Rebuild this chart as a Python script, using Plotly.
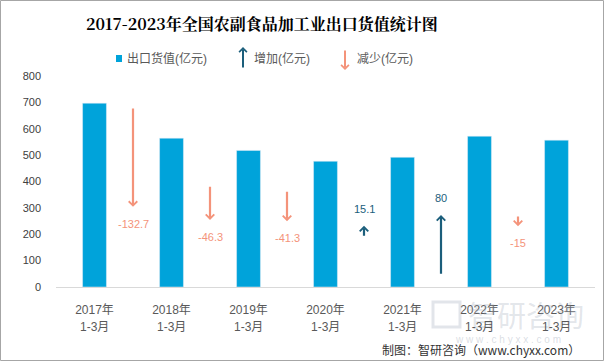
import plotly.graph_objects as go

# ---- data ----
categories = ["2017年<br>1-3月", "2018年<br>1-3月", "2019年<br>1-3月", "2020年<br>1-3月",
              "2021年<br>1-3月", "2022年<br>1-3月", "2023年<br>1-3月"]
export_value = [697.0, 564.3, 518.0, 476.7, 491.8, 571.8, 556.8]
changes = [-132.7, -46.3, -41.3, 15.1, 80, -15]
# start level of each change arrow (axis units)
arrow_start = [682, 386, 367, 189, 45, 273]
arrow_scale = 2.85
y_ticks = [0, 100, 200, 300, 400, 500, 600, 700, 800]

BAR = "#00A3DA"
UP = "#1B5E7B"
DOWN = "#F4937A"
TXT = "#595959"
FONT = "Liberation Sans, Noto Sans CJK SC, sans-serif"

W, H = 604, 361
L, R, T, B = 56, 9, 76, 74
PW, PH = W - L - R, H - T - B


def px(x):
    return (x - L) / PW


def py(y):
    return (H - B - y) / PH


fig = go.Figure()
fig.add_trace(go.Bar(x=list(range(len(categories))), y=export_value,
                     marker_color=BAR, showlegend=False, hoverinfo="skip"))

ann = []

# watermark (drawn first so it sits behind other text)
ann.append(dict(x=px(526), y=py(314), xref="paper", yref="paper", xanchor="center", yanchor="middle",
                text="智研咨询", showarrow=False,
                font=dict(family="Noto Sans CJK SC", size=29, color="rgba(160,170,185,0.3)")))
ann.append(dict(x=px(508), y=py(339), xref="paper", yref="paper", xanchor="center", yanchor="middle",
                text="w w w . c h y x x . c o m", showarrow=False,
                font=dict(family=FONT, size=10, color="rgba(160,170,185,0.4)")))

# two-line category labels (line spacing as in the reference)
first_lines = [c.split("<br>")[0] for c in categories]
second_lines = [c.split("<br>")[1] for c in categories]
for i, s in enumerate(second_lines):
    ann.append(dict(x=i, y=py(327), xref="x", yref="paper", xanchor="center", yanchor="middle",
                    text=s, showarrow=False, font=dict(family=FONT, size=12, color=TXT)))

for i, c in enumerate(changes):
    xpos = i + 0.5
    start = arrow_start[i]
    end = start + c * arrow_scale
    col = UP if c > 0 else DOWN
    ann.append(dict(x=xpos, y=end, ax=xpos, ay=start, xref="x", yref="y", axref="x", ayref="y",
                    text="", showarrow=True, arrowhead=4, arrowsize=0.75, arrowwidth=2.2,
                    arrowcolor=col, standoff=0, startstandoff=0))
    lab = f"{c:g}"
    ann.append(dict(x=xpos, y=end, xref="x", yref="y", text=lab, showarrow=False,
                    yshift=(17 if c > 0 else -17), font=dict(family=FONT, size=11, color=col)))

# title
ann.append(dict(x=px(261.5), y=py(24), xref="paper", yref="paper", xanchor="center",
                yanchor="middle", text="<b>2017-2023年全国农副食品加工业出口货值统计图</b>", showarrow=False,
                font=dict(family="Noto Serif CJK SC, Noto Sans CJK SC, serif", size=16, color="#000000")))

# legend
legend_items = [("出口货值(亿元)", 125), ("增加(亿元)", 252), ("减少(亿元)", 355)]
for text, x in legend_items:
    ann.append(dict(x=px(x), y=py(59), xref="paper", yref="paper", xanchor="left", yanchor="middle",
                    text=text, showarrow=False, font=dict(family=FONT, size=12, color=TXT)))
ann.append(dict(x=px(243), y=py(47), xref="paper", yref="paper", ax=0, ay=22, text="", showarrow=True,
                arrowhead=4, arrowsize=0.75, arrowwidth=2, arrowcolor=UP, standoff=0))
ann.append(dict(x=px(345), y=py(70), xref="paper", yref="paper", ax=0, ay=-21, text="", showarrow=True,
                arrowhead=4, arrowsize=0.75, arrowwidth=2, arrowcolor=DOWN, standoff=0))

# source
ann.append(dict(x=px(582), y=py(349), xref="paper", yref="paper", xanchor="right", yanchor="middle",
                text="制图：智研咨询（www.chyxx.com）", showarrow=False,
                font=dict(family="Noto Sans CJK SC", size=12, color="#333333")))

shapes = [
    dict(type="rect", xref="paper", yref="paper", x0=px(0.5), x1=px(603.5), y0=py(360.5), y1=py(0.5),
         line=dict(color="#A6A6A6", width=1), fillcolor="rgba(0,0,0,0)", layer="below"),
    dict(type="rect", xref="paper", yref="paper", x0=px(116), x1=px(122), y0=py(62), y1=py(55),
         line=dict(width=0), fillcolor=BAR),
    # watermark logo block
    dict(type="rect", xref="paper", yref="paper", x0=px(433), x1=px(460), y0=py(327), y1=py(302),
         line=dict(color="rgba(160,170,185,0.3)", width=3), fillcolor="rgba(0,0,0,0)", layer="below"),
]

fig.update_layout(
    width=W, height=H,
    margin=dict(l=L, r=R, t=T, b=B),
    paper_bgcolor="white", plot_bgcolor="white",
    bargap=0.69,
    showlegend=False,
    annotations=ann,
    shapes=shapes,
    xaxis=dict(tickmode="array", tickvals=list(range(len(categories))), ticktext=first_lines,
               range=[-0.5, len(categories) - 0.5], showline=True, linecolor="#D9D9D9", linewidth=1,
               showgrid=False, zeroline=False, ticks="", ticklabelstandoff=12,
               tickfont=dict(family=FONT, size=12, color=TXT)),
    yaxis=dict(range=[0, 800], tickvals=y_ticks, showgrid=False, zeroline=False, showline=False,
               ticks="", ticklabelstandoff=14, tickfont=dict(family=FONT, size=11, color="#404040")),
)

fig.write_html("out.html", config={"displayModeBar": False},
               post_script="document.body.style.margin='0';")
